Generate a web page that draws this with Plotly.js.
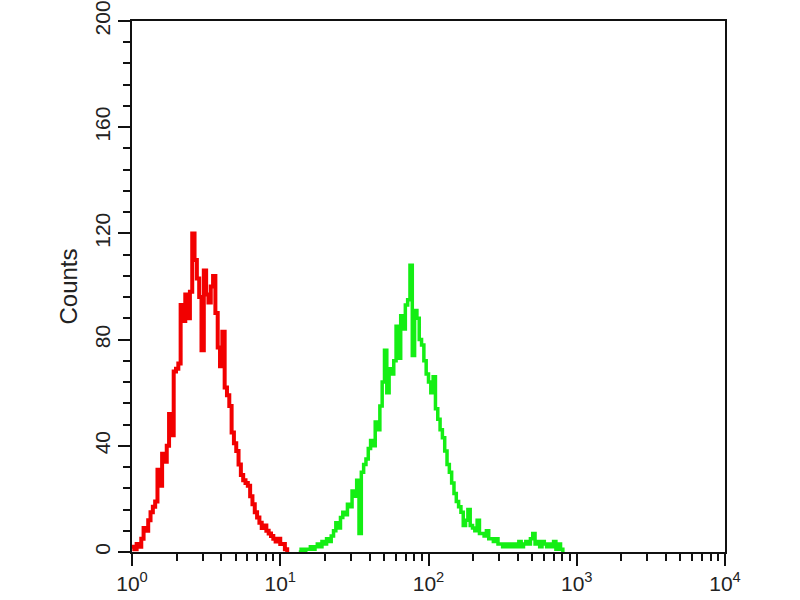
<!DOCTYPE html>
<html>
<head>
<meta charset="utf-8">
<script src="https://cdn.plot.ly/plotly-3.0.1.min.js"></script>
<style>html,body{margin:0;padding:0;background:#fff;}#chart{width:800px;height:600px;}</style>
</head>
<body>
<div id="chart"></div>
<script>
// Channel numbers (1024-channel scale, 256 channels per decade) and counts
var redChannels = [0,4,8,12,16,20,24,28,32,36,40,44,48,52,56,60,64,68,72,76,80,84,88,92,96,100,104,108,112,116,120,124,128,132,136,140,144,148,152,156,160,164,168,172,176,180,184,188,192,196,200,204,208,212,216,220,224,228,232,236,240,244,248,252,256,260,264,268];
var redCounts = [2,1,3,2,5,9,8,12,15,17,19,31,25,37,34,40,52,44,68,69,71,93,87,97,88,98,120,110,103,96,76,106,97,94,100,104,90,77,70,83,62,59,55,45,41,38,33,29,27,26,25,21,18,15,13,11,9,10,8,7,6,5,4,5,3,3,1,0];

var greenChannels = [288,292,296,300,304,308,312,316,320,324,328,332,336,340,344,348,352,356,360,364,368,372,376,380,384,388,392,396,400,404,408,412,416,420,424,428,432,436,440,444,448,452,456,460,464,468,472,476,480,484,488,492,496,500,504,508,512,516,520,524,528,532,536,540,544,548,552,556,560,564,568,572,576,580,584,588,592,596,600,604,608,612,616,620,624,628,632,636,640,644,648,652,656,660,664,668,672,676,680,684,688,692,696,700,704,708,712,716,720,724,728,732,736,740,744];
var greenCounts = [0,1,0,1,1,2,1,2,3,2,4,3,5,4,6,8,11,9,13,15,14,18,17,23,21,27,7,30,33,35,39,42,40,49,46,55,64,76,60,69,67,72,85,73,89,84,93,95,108,74,91,88,80,78,72,67,64,60,66,54,50,46,43,38,33,30,26,22,19,17,15,10,12,16,10,9,8,12,7,7,6,8,5,5,4,5,3,3,2,3,2,3,2,3,2,4,2,3,4,3,5,7,3,4,2,4,3,2,3,2,4,1,3,1,0];

var channelsPerDecade = 256;
var xTickVals = [1, 10, 100, 1000, 10000];
var xTickText = ['10<sup>0</sup>', '10<sup>1</sup>', '10<sup>2</sup>', '10<sup>3</sup>', '10<sup>4</sup>'];
var yTickVals = [0, 40, 80, 120, 160, 200];
var yTickText = ['0', '40', '80', '120', '160', '200'];

function toIntensity(ch) { return ch.map(function (c) { return Math.pow(10, c / channelsPerDecade); }); }

var traces = [
  { x: toIntensity(redChannels), y: redCounts, type: 'scatter', mode: 'lines',
    line: { color: '#f20000', width: 4, shape: 'hv' }, hoverinfo: 'skip' },
  { x: toIntensity(greenChannels), y: greenCounts, type: 'scatter', mode: 'lines',
    line: { color: '#14ee14', width: 3.5, shape: 'hv' }, hoverinfo: 'skip' }
];

var font = { family: 'Liberation Sans, Arial, sans-serif', size: 21, color: '#222' };

var layout = {
  width: 800, height: 600,
  margin: { l: 132, r: 75, t: 21, b: 48, pad: 0 },
  paper_bgcolor: '#fff', plot_bgcolor: '#fff',
  showlegend: false,
  font: font,
  xaxis: {
    type: 'log', range: [0, 4],
    tickvals: xTickVals, ticktext: xTickText,
    ticks: 'outside', ticklen: 12, tickwidth: 2, tickcolor: '#111',
    minor: { dtick: 'D1', ticks: 'outside', ticklen: 7, tickwidth: 2, tickcolor: '#111', showgrid: false },
    showline: true, linecolor: '#111', linewidth: 2, mirror: true,
    showgrid: false, zeroline: false,
    tickfont: font
  },
  yaxis: {
    range: [0, 200],
    tickvals: yTickVals, ticktext: yTickText, tickangle: -90,
    ticks: 'outside', ticklen: 12, tickwidth: 2, tickcolor: '#111',
    minor: { dtick: 8, ticks: 'outside', ticklen: 7, tickwidth: 2, tickcolor: '#111', showgrid: false },
    showline: true, linecolor: '#111', linewidth: 2, mirror: true,
    showgrid: false, zeroline: false,
    tickfont: font,
    title: { text: 'Counts', font: { family: 'Liberation Sans, Arial, sans-serif', size: 24, color: '#222' }, standoff: 6 }
  }
};

Plotly.newPlot('chart', traces, layout, { displayModeBar: false, staticPlot: true });
</script>
</body>
</html>
